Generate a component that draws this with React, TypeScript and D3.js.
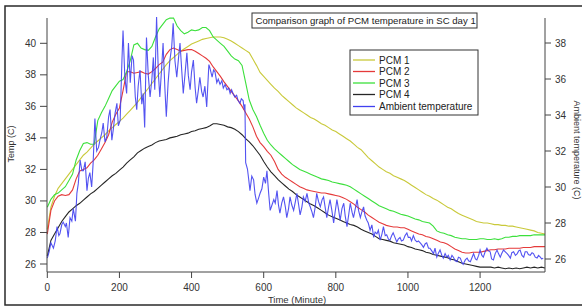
import React from "react";
import * as d3 from "d3";

// ---- data ----
const pcmTime: number[] = d3.range(0, 1381, 10);

const pcm1: number[] = [
  28.2, 29.6, 30.3, 30.8, 31.1, 31.4, 31.7, 32.0, 32.3, 32.6,
  32.9, 33.1, 33.35, 33.6, 33.8, 34.0, 34.2, 34.45, 34.65, 34.85,
  35.05, 35.25, 35.5, 35.75, 36.0, 36.25, 36.55, 36.85, 37.15, 37.45,
  37.75, 38.05, 38.35, 38.65, 38.9, 39.1, 39.3, 39.5, 39.65, 39.8,
  39.95, 40.05, 40.15, 40.25, 40.3, 40.35, 40.4, 40.4, 40.4, 40.35,
  40.25, 40.15, 40.0, 39.85, 39.7, 39.55, 39.4, 39.0, 38.6, 38.15,
  37.9, 37.65, 37.4, 37.15, 36.95, 36.7, 36.5, 36.3, 36.1, 35.9,
  35.75, 35.6, 35.45, 35.3, 35.2, 35.05, 34.9, 34.8, 34.65, 34.5,
  34.4, 34.25, 34.1, 33.95, 33.8, 33.6, 33.4, 33.25, 33.0, 32.75,
  32.55, 32.35, 32.15, 32.0, 31.85, 31.75, 31.6, 31.5, 31.4, 31.3,
  31.15, 31.0, 30.85, 30.7, 30.55, 30.4, 30.3, 30.15, 30.05, 29.9,
  29.75, 29.6, 29.5, 29.35, 29.2, 29.1, 29.0, 28.9, 28.8, 28.7,
  28.65, 28.6, 28.6, 28.55, 28.5, 28.5, 28.45, 28.45, 28.4, 28.4,
  28.35, 28.3, 28.25, 28.2, 28.15, 28.1, 28.0, 27.95, 27.9,
];

const pcm2: number[] = [
  27.9, 29.4, 30.0, 30.3, 30.4, 30.35, 30.4, 30.7, 31.4, 31.9,
  32.0, 32.1, 32.4, 32.6, 32.9, 33.3, 33.7, 34.2, 35.0, 35.5,
  35.9, 37.0, 38.2, 38.2, 38.1, 38.15, 38.2, 38.1, 38.05, 38.2,
  38.4, 38.65, 38.8, 39.3, 39.6, 39.7, 39.6, 39.5, 39.55, 39.6,
  39.6, 39.5, 39.35, 39.2, 39.05, 38.85, 38.5, 38.2, 37.9, 37.55,
  37.25, 36.95, 36.65, 36.35, 36.0, 35.6, 35.2, 34.7, 34.1, 33.7,
  33.45, 33.15, 32.9, 32.5, 32.0, 31.7, 31.5, 31.35, 31.2, 31.05,
  30.9, 30.8, 30.7, 30.65, 30.6, 30.55, 30.5, 30.5, 30.45, 30.4,
  30.35, 30.3, 30.2, 30.1, 29.95, 29.8, 29.6, 29.45, 29.3, 29.1,
  28.95, 28.8, 28.65, 28.55, 28.45, 28.4, 28.35, 28.35, 28.3, 28.3,
  28.2, 28.1, 28.0, 27.9, 27.85, 27.75, 27.7, 27.6, 27.5, 27.4,
  27.35, 27.25, 27.1, 26.95, 26.85, 26.75, 26.7, 26.7, 26.75, 26.75,
  26.75, 26.8, 26.85, 26.9, 26.9, 26.95, 26.95, 26.95, 27.0, 27.0,
  27.0, 27.0, 27.05, 27.05, 27.05, 27.1, 27.1, 27.1, 27.1,
];

const pcm3: number[] = [
  29.6, 30.1, 30.4, 30.5, 30.7, 30.9, 31.3, 31.7, 32.6, 33.2,
  33.65, 33.7, 33.6, 33.6, 35.1, 35.6, 36.0, 36.5, 37.0, 37.3,
  37.6, 37.7, 38.2, 38.9, 39.9, 40.0, 39.7, 39.6, 39.55, 39.8,
  40.4, 40.9, 41.2, 41.5, 41.6, 41.6, 41.1, 40.8, 40.6, 40.7,
  40.85, 40.8, 40.85, 41.0, 41.0, 40.8, 40.4, 40.2, 40.0, 39.8,
  39.5, 39.2, 39.0, 38.9, 38.6, 37.5, 36.4, 35.8, 35.35, 34.8,
  34.3, 33.85, 33.55, 33.3, 33.1, 32.9, 32.7, 32.5, 32.3, 32.15,
  32.0, 31.9, 31.8, 31.7, 31.6, 31.5, 31.4, 31.35, 31.3, 31.2,
  31.15, 31.1, 31.05, 31.0, 30.9, 30.75, 30.6, 30.45, 30.3, 30.15,
  30.0, 29.85, 29.7, 29.6, 29.5, 29.4, 29.35, 29.25, 29.15, 29.1,
  29.05, 28.95, 28.85, 28.8, 28.7, 28.65, 28.6, 28.4, 28.1, 28.0,
  27.95, 27.85, 27.8, 27.7, 27.65, 27.6, 27.6, 27.55, 27.55, 27.55,
  27.6, 27.6, 27.55, 27.55, 27.6, 27.55, 27.6, 27.7, 27.7, 27.75,
  27.75, 27.8, 27.8, 27.8, 27.8, 27.85, 27.85, 27.85, 27.85,
];

const pcm4: number[] = [
  26.5, 27.5, 27.9, 28.3, 28.7, 29.0, 29.3, 29.5, 29.7, 29.85,
  30.05, 30.25, 30.45, 30.6, 30.8, 31.0, 31.2, 31.4, 31.6, 31.75,
  31.95, 32.15, 32.4, 32.6, 32.8, 33.05, 33.2, 33.35, 33.45, 33.55,
  33.7, 33.8, 33.85, 33.9, 34.0, 34.05, 34.1, 34.2, 34.25, 34.3,
  34.4, 34.45, 34.55, 34.6, 34.65, 34.75, 34.9, 34.9, 34.85, 34.8,
  34.7, 34.65, 34.55, 34.4, 34.2, 33.95, 33.75, 33.5, 33.2, 32.9,
  32.5, 32.15, 31.85, 31.6, 31.35, 31.15, 30.95, 30.75, 30.6, 30.4,
  30.25, 30.1, 29.95, 29.8, 29.7, 29.55, 29.4, 29.25, 29.1, 29.0,
  28.9, 28.8, 28.7, 28.6, 28.5, 28.45, 28.35, 28.2, 28.1, 28.0,
  27.9, 27.75, 27.6, 27.55, 27.5, 27.45, 27.35, 27.3, 27.25, 27.2,
  27.1, 27.05, 26.95, 26.9, 26.85, 26.75, 26.7, 26.6, 26.55, 26.5,
  26.45, 26.4, 26.3, 26.25, 26.15, 26.05, 26.0, 25.95, 25.9, 25.85,
  25.8, 25.8, 25.8, 25.8, 25.75, 25.8, 25.75, 25.7, 25.75, 25.7,
  25.75, 25.7, 25.75, 25.8, 25.75, 25.8, 25.75, 25.8, 25.75,
];

const ambientTime: number[] = [
  0, 5, 10, 17, 22, 27, 32, 35, 40, 44, 50, 53, 58, 63, 68, 72, 78, 82, 86, 91,
  96, 100, 105, 110, 114, 118, 123, 127, 132, 137, 142, 146, 151, 155, 160, 165, 170, 174, 179, 183,
  188, 193, 197, 202, 207, 210, 215, 220, 225, 230, 235, 239, 244, 248, 252, 257, 262, 266, 270, 275,
  280, 285, 290, 294, 298, 303, 308, 312, 317, 321, 326, 330, 335, 340, 345, 349, 354, 359, 364, 368,
  373, 377, 382, 387, 391, 396, 400, 405, 410, 414, 419, 423, 428, 432, 437, 442, 448, 451, 457, 461,
  465, 470, 474, 479, 484, 488, 493, 498, 503, 507, 511, 515, 520, 525, 529, 534, 538, 543, 546, 548,
  550, 555, 558, 562, 567, 572, 576, 581, 586, 590, 595, 600, 605, 609, 614, 618, 623, 628, 632, 637,
  641, 645, 650, 655, 660, 664, 669, 673, 678, 683, 688, 692, 697, 701, 706, 710, 715, 720, 725, 729,
  734, 738, 743, 747, 752, 757, 762, 766, 771, 775, 780, 784, 789, 794, 798, 803, 808, 812, 817, 822,
  826, 831, 836, 840, 845, 849, 854, 859, 863, 868, 872, 877, 881, 886, 890, 895, 900, 905, 909, 914,
  918, 923, 928, 932, 937, 941, 946, 950, 955, 959, 964, 969, 973, 978, 982, 987, 992, 997, 1001, 1006,
  1010, 1015, 1020, 1025, 1029, 1034, 1038, 1043, 1048, 1052, 1057, 1061, 1066, 1071, 1075, 1080, 1084, 1089, 1094, 1098,
  1103, 1108, 1112, 1117, 1122, 1126, 1131, 1136, 1140, 1145, 1150, 1153, 1159, 1164, 1168, 1173, 1178, 1182, 1187, 1191,
  1196, 1200, 1205, 1209, 1214, 1219, 1223, 1228, 1232, 1237, 1242, 1247, 1251, 1256, 1260, 1265, 1270, 1275, 1279, 1284,
  1288, 1293, 1298, 1303, 1307, 1311, 1316, 1321, 1325, 1330, 1334, 1339, 1344, 1348, 1353, 1358, 1362, 1367, 1371, 1375,
];

const ambientValue: number[] = [
  26.05, 26.4, 26.9, 26.6, 27.0, 27.8, 27.3, 27.4, 27.9, 28.05, 27.8, 28.0, 27.2, 28.3, 28.1, 28.8, 28.1, 29.65, 30.2, 31.5,
  30.9, 30.9, 31.4, 29.8, 30.5, 30.8, 30.0, 31.3, 33.8, 32.0, 32.2, 32.6, 33.0, 33.55, 32.5, 32.8, 33.9, 34.3, 32.6, 33.2,
  34.1, 34.65, 33.4, 33.7, 37.05, 38.7, 36.1, 35.2, 38.0, 35.8, 37.3, 37.05, 35.0, 34.3, 35.6, 36.5, 34.6, 35.2, 33.3, 38.3,
  36.2, 35.0, 36.0, 37.2, 35.4, 39.45, 36.3, 35.0, 36.6, 38.0, 35.5, 33.9, 35.8, 37.05, 37.8, 39.1, 37.0, 36.1, 37.2, 38.0,
  36.4, 35.2, 36.3, 37.45, 36.2, 35.4, 36.4, 37.05, 35.5, 34.65, 35.4, 36.1, 35.3, 35.0, 35.6, 34.45, 36.8, 36.6, 36.1, 36.5,
  36.4, 35.8, 36.0, 35.7, 35.9, 35.5, 35.7, 35.4, 35.5, 35.2, 35.4, 35.2, 35.0, 35.1, 34.8, 34.65, 34.9, 34.8, 34.3, 34.6,
  31.35, 31.0, 30.5, 29.8, 30.6, 30.4, 29.6, 29.1, 29.4, 29.65, 29.9, 30.55, 30.2, 30.9, 29.6, 28.7, 29.0, 29.3, 29.1, 29.8,
  29.0, 28.55, 29.1, 29.45, 28.9, 28.3, 28.8, 29.45, 29.0, 28.7, 29.2, 29.65, 29.0, 28.45, 28.9, 29.45, 29.2, 29.65, 29.1, 28.9,
  28.6, 28.3, 28.9, 29.65, 29.2, 28.9, 29.3, 29.45, 28.8, 28.3, 28.9, 29.3, 28.7, 28.0, 28.6, 29.3, 28.7, 28.15, 28.8, 29.1,
  28.4, 27.8, 28.5, 29.1, 28.6, 28.3, 28.8, 29.3, 28.7, 28.3, 28.6, 28.9, 28.4, 28.15, 28.0, 27.6, 27.9, 27.2, 27.5, 27.4,
  27.6, 27.05, 27.4, 27.8, 27.3, 27.35, 27.1, 27.05, 27.3, 27.45, 27.2, 26.95, 27.1, 27.2, 27.0, 27.05, 27.3, 27.45, 27.2, 27.2,
  27.0, 27.3, 27.05, 26.95, 27.0, 26.9, 26.8, 26.65, 26.85, 26.9, 26.6, 26.6, 26.45, 26.3, 26.6, 26.1, 26.3, 26.5, 26.2, 26.05,
  26.3, 26.1, 26.2, 25.95, 26.2, 26.1, 25.9, 25.85, 26.1, 26.05, 25.8, 25.7, 25.95, 26.05, 25.9, 25.85, 26.1, 26.3, 26.0, 25.95,
  26.2, 26.5, 26.2, 26.1, 26.4, 26.6, 26.45, 26.4, 26.0, 25.95, 26.3, 26.5, 26.3, 26.1, 26.3, 26.5, 26.4, 26.3, 26.2, 26.05,
  26.35, 26.4, 26.2, 26.3, 26.45, 26.5, 26.2, 26.1, 26.4, 26.4, 26.25, 26.2, 26.35, 26.3, 26.1, 26.05, 26.2, 26.1, 26.0, 26.05,
];

const xTicks: number[] = [0, 200, 400, 600, 800, 1000, 1200];
const leftTicks: number[] = [26, 28, 30, 32, 34, 36, 38, 40];
const rightTicks: number[] = [26, 28, 30, 32, 34, 36, 38];

const seriesNames: string[] = ["PCM 1", "PCM 2", "PCM 3", "PCM 4", "Ambient temperature"];
const seriesColors: string[] = ["#c9c93a", "#e53a3a", "#3ce03c", "#262626", "#4040f0"];

const titleText = "Comparison graph of PCM temperature in SC day 1";
const xTitle = "Time (Minute)";
const yLeftTitle = "Temp (C)";
const yRightTitle = "Ambient temperature (C)";

// ---- chart ----
const W = 582;
const H = 308;
const FONT = "'Liberation Sans', Arial, sans-serif";

export default function App() {
  const x = d3.scaleLinear().domain([0, 1380]).range([47.3, 545]);
  const yL = d3.scaleLinear().domain([26, 40]).range([264, 43.3]);
  const yR = d3.scaleLinear().domain([26, 38]).range([259, 43]);
  const plotTop = 18;
  const plotBottom = 272;
  const xLeft = 47;
  const xRight = 545;

  const lineL = d3
    .line<number>()
    .x((_, i) => x(pcmTime[i]))
    .y((v) => yL(v));
  const lineR = d3
    .line<number>()
    .x((_, i) => x(ambientTime[i]))
    .y((v) => yR(v));

  const pcmSeries = [pcm1, pcm2, pcm3, pcm4];
  const axisColor = "#444";
  const textColor = "#333";

  const legendX = 350;
  const legendY = 50;
  const legendRowY = [60, 71.5, 83, 94.5, 106.5];

  return (
    <svg
      width={W}
      height={H}
      style={{ position: "absolute", left: 0, top: 0, background: "#fff" }}
      fontFamily={FONT}
    >
      <rect x={0} y={0} width={W} height={H} fill="#fff" />
      {/* outer frame */}
      <rect x={5} y={6} width={W} height={299} fill="none" stroke="#2a2a2a" strokeWidth={1.5} />

      {/* series */}
      {pcmSeries.map((s, k) => (
        <path key={k} d={lineL(s) || ""} fill="none" stroke={seriesColors[k]} strokeWidth={1.1} />
      ))}
      <path d={lineR(ambientValue) || ""} fill="none" stroke={seriesColors[4]} strokeWidth={1.1} strokeOpacity={0.9} />

      {/* left axis */}
      <line x1={xLeft} x2={xLeft} y1={plotTop} y2={plotBottom} stroke={axisColor} strokeWidth={1} />
      {leftTicks.map((t) => (
        <g key={"l" + t}>
          <line x1={xLeft - 7} x2={xLeft} y1={yL(t)} y2={yL(t)} stroke={axisColor} />
          <text x={xLeft - 11} y={yL(t) + 3.5} fontSize={10} textAnchor="end" fill={textColor}>
            {t}
          </text>
        </g>
      ))}
      <text
        transform={`translate(14,${144}) rotate(-90)`}
        fontSize={9}
        textAnchor="middle"
        fill={textColor}
      >
        {yLeftTitle}
      </text>

      {/* right axis */}
      <line x1={xRight} x2={xRight} y1={plotTop} y2={plotBottom} stroke={axisColor} strokeWidth={1} />
      {rightTicks.map((t) => (
        <g key={"r" + t}>
          <line x1={xRight} x2={xRight + 6} y1={yR(t)} y2={yR(t)} stroke={axisColor} />
          <text x={xRight + 10} y={yR(t) + 3.5} fontSize={10} textAnchor="start" fill={textColor}>
            {t}
          </text>
        </g>
      ))}
      <text
        transform={`translate(574,${150}) rotate(90)`}
        fontSize={9}
        textAnchor="middle"
        fill={textColor}
      >
        {yRightTitle}
      </text>

      {/* x axis */}
      <line x1={xLeft} x2={xRight} y1={plotBottom} y2={plotBottom} stroke={axisColor} strokeWidth={1} />
      {xTicks.map((t) => (
        <g key={"x" + t}>
          <line x1={x(t)} x2={x(t)} y1={plotBottom} y2={plotBottom + 6} stroke={axisColor} />
          <text x={x(t)} y={plotBottom + 19} fontSize={10} textAnchor="middle" fill={textColor}>
            {t}
          </text>
        </g>
      ))}
      <text x={297} y={303} fontSize={9.5} textAnchor="middle" fill={textColor}>
        {xTitle}
      </text>

      {/* title box */}
      <rect x={252} y={13} width={225} height={15} fill="#fff" stroke="#333" strokeWidth={1} />
      <text x={255.5} y={24} fontSize={9.6} fill="#222">
        {titleText}
      </text>

      {/* legend */}
      <rect x={legendX} y={legendY} width={128} height={65} fill="#fff" stroke="#333" strokeWidth={1} />
      {seriesNames.map((n, i) => (
        <g key={n}>
          <line x1={353} x2={375} y1={legendRowY[i]} y2={legendRowY[i]} stroke={seriesColors[i]} strokeWidth={1.3} />
          <text x={379} y={legendRowY[i] + 3.5} fontSize={10} fill="#222">
            {n}
          </text>
        </g>
      ))}
    </svg>
  );
}
